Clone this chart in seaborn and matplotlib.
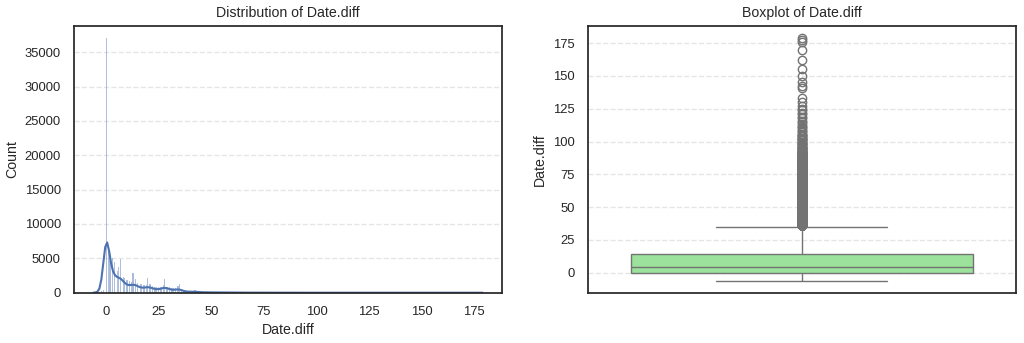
import matplotlib
matplotlib.use("Agg")
import matplotlib.pyplot as plt
import numpy as np
import pandas as pd
import seaborn as sns

# day differences and how often each one occurs
neg_days = [-6, -5, -4, -3, -2, -1]
neg_counts = [20, 30, 60, 120, 250, 420]

head_days = list(range(0, 15))
head_counts = [37000, 6500, 5500, 5000, 4500, 3100, 3800, 4900,
               2300, 2200, 1800, 1700, 1600, 2800, 2000]

mid_days = list(range(15, 36))
mid_counts = [1450, 1300, 1200, 1150, 1100, 2100, 1200, 1000, 900, 850, 800,
              850, 1100, 2000, 900, 800, 700, 650, 650, 1000, 1200]

tail_days = list(range(36, 101))
tail_counts = [400, 330, 280, 250, 220, 200, 450, 160, 140, 120,
               110, 100, 95, 90, 85, 80, 75, 70, 65, 60, 60, 55, 50, 45, 40,
               35, 32, 30, 28, 26, 24, 22, 20, 18, 17, 16, 15, 14, 13, 12,
               10, 10, 9, 9, 8, 8, 7, 7, 6, 6, 6, 5, 5, 5, 4, 4, 4, 3, 3, 3,
               3, 2, 2, 2, 2]

rare_days = [101, 102, 103, 104, 105, 106, 107, 108, 109, 110, 111, 112, 113,
             115, 116, 118, 119, 121, 122, 124, 125, 127, 130, 133, 141, 142,
             145, 150, 155, 162, 170, 176, 177, 179]
rare_counts = [2, 2, 2, 2, 2, 1, 1, 1, 1, 1, 1, 1, 1, 1, 1, 1, 1, 1, 1, 1, 1,
               1, 1, 1, 1, 1, 1, 1, 1, 1, 1, 1, 1, 1]

days = neg_days + head_days + mid_days + tail_days + rare_days
counts = neg_counts + head_counts + mid_counts + tail_counts + rare_counts
df = pd.DataFrame({'Date.diff': np.repeat(days, counts)})

sns.set_theme(style="white", font_scale=0.85)
plt.rcParams['font.family'] = ['Liberation Sans', 'DejaVu Sans']

fig, (ax1, ax2) = plt.subplots(1, 2, figsize=(10.24, 3.43), dpi=100)

''' histogram with kde '''
sns.histplot(df['Date.diff'], kde=True, kde_kws={'bw_adjust': 1.2}, ax=ax1)
ax1.set_title('Distribution of Date.diff')
ax1.grid(axis='y', linestyle='--', alpha=0.5)

''' boxplot '''
sns.boxplot(y=df['Date.diff'], color='lightgreen', ax=ax2)
ax2.set_title('Boxplot of Date.diff')
ax2.grid(axis='y', linestyle='--', alpha=0.5)

plt.subplots_adjust(left=0.0723, right=0.992, bottom=0.1466, top=0.925, wspace=0.2)
plt.savefig('out.png')
